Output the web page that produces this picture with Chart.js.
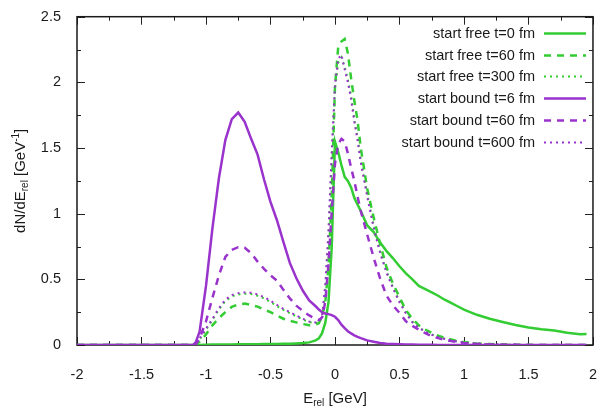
<!DOCTYPE html>
<html>
<head>
<meta charset="utf-8">
<script src="https://cdn.jsdelivr.net/npm/chart.js@4.4.1/dist/chart.umd.min.js"></script>
<style>
  html, body { margin: 0; padding: 0; background: #fff; }
  #caja { width: 610px; height: 407px; }
</style>
</head>
<body>
<div id="caja"><canvas id="grafico"></canvas></div>
<script>
// E_rel [GeV]
const eRel = [-2, -1.5, -1.1, -1.08, -1.05, -1.0,
  -0.95, -0.9, -0.85, -0.8, -0.75, -0.7, -0.65, -0.6, -0.55, -0.5, -0.45, -0.4, -0.35, -0.3, -0.25, -0.2, -0.15,
  -0.125, -0.1, -0.075, -0.05, -0.025,
  0, 0.025, 0.05, 0.075, 0.1, 0.125, 0.15, 0.175, 0.2,
  0.25, 0.3, 0.35, 0.4, 0.45, 0.5, 0.55, 0.6, 0.65, 0.7, 0.75, 0.8, 0.85, 0.9, 0.95, 1.0,
  1.1, 1.2, 1.3, 1.4, 1.5, 1.6, 1.7, 1.8, 1.9, 1.95];

// dN/dE_rel [GeV^-1]
const freeT0 = [0, 0, 0, 0, 0, 0.002,
  0.003, 0.003, 0.004, 0.004, 0.005, 0.005, 0.006, 0.006, 0.007, 0.008, 0.008, 0.009, 0.01, 0.012, 0.015, 0.02, 0.035,
  0.05, 0.09, 0.17, 0.33, 0.75,
  1.55, 1.47, 1.37, 1.28, 1.25, 1.2, 1.12, 1.07, 1.02,
  0.91, 0.86, 0.78, 0.715, 0.66, 0.6, 0.545, 0.5, 0.45, 0.425, 0.4, 0.375, 0.345, 0.32, 0.295, 0.27,
  0.23, 0.2, 0.175, 0.152, 0.134, 0.12, 0.11, 0.093, 0.082, 0.083];

const freeT60 = [0, 0, 0, 0.005, 0.025, 0.08,
  0.15, 0.205, 0.25, 0.29, 0.31, 0.315, 0.305, 0.292, 0.27, 0.25, 0.225, 0.2, 0.185, 0.172, 0.16, 0.15, 0.155,
  0.165, 0.22, 0.33, 0.6, 1.15,
  1.97, 2.27, 2.31, 2.33, 2.22, 2.03, 1.86, 1.71, 1.5,
  1.19, 0.97, 0.77, 0.59, 0.465, 0.365, 0.265, 0.2, 0.15, 0.118, 0.092, 0.07, 0.055, 0.042, 0.03, 0.022,
  0.012, 0.007, 0.004, 0.002, 0.001, 0, 0, 0, 0, 0];

const freeT300 = [0, 0, 0, 0.008, 0.04, 0.115,
  0.19, 0.27, 0.335, 0.37, 0.385, 0.39, 0.388, 0.375, 0.355, 0.327, 0.297, 0.268, 0.243, 0.218, 0.195, 0.173, 0.167,
  0.172, 0.21, 0.42, 0.82, 1.42,
  1.95, 2.15, 2.19, 2.12, 2.02, 1.9, 1.72, 1.58, 1.41,
  1.15, 0.91, 0.71, 0.56, 0.44, 0.335, 0.25, 0.18, 0.135, 0.102, 0.08, 0.062, 0.048, 0.037, 0.027, 0.02,
  0.012, 0.006, 0.003, 0.001, 0, 0, 0, 0, 0, 0];

const boundT6 = [0, 0, 0, 0.02, 0.1, 0.45,
  0.89, 1.27, 1.56, 1.72, 1.77, 1.7, 1.57, 1.45, 1.26, 1.09, 0.95, 0.785, 0.625, 0.51, 0.415, 0.34, 0.295,
  0.27, 0.25, 0.24, 0.235, 0.228,
  0.215, 0.19, 0.155, 0.128, 0.105, 0.088, 0.074, 0.062, 0.052,
  0.035, 0.025, 0.016, 0.01, 0.007, 0.005, 0.004, 0.003, 0.002, 0.002, 0.001, 0, 0, 0, 0, 0,
  0, 0, 0, 0, 0, 0, 0, 0, 0, 0];

const boundT60 = [0, 0, 0, 0.005, 0.05, 0.18,
  0.36, 0.53, 0.67, 0.725, 0.745, 0.74, 0.7, 0.635, 0.58, 0.53, 0.49, 0.42, 0.355, 0.3, 0.26, 0.225, 0.2,
  0.19, 0.21, 0.33, 0.62, 1.02,
  1.38, 1.53, 1.57, 1.55, 1.46, 1.35, 1.25, 1.13, 1.02,
  0.84, 0.665, 0.505, 0.375, 0.3, 0.245, 0.18, 0.145, 0.118, 0.09, 0.068, 0.052, 0.04, 0.03, 0.022, 0.016,
  0.008, 0.004, 0.002, 0.001, 0, 0, 0, 0, 0, 0];

const boundT600 = [0, 0, 0, 0.01, 0.05, 0.125,
  0.2, 0.28, 0.345, 0.38, 0.395, 0.4, 0.398, 0.385, 0.365, 0.337, 0.305, 0.275, 0.25, 0.225, 0.2, 0.178, 0.172,
  0.178, 0.22, 0.46, 0.88, 1.48,
  1.98, 2.18, 2.21, 2.1, 2.0, 1.87, 1.7, 1.56, 1.39,
  1.13, 0.89, 0.7, 0.55, 0.43, 0.325, 0.24, 0.172, 0.132, 0.1, 0.078, 0.06, 0.046, 0.035, 0.026, 0.018,
  0.01, 0.005, 0.002, 0.001, 0, 0, 0, 0, 0, 0];

const etiquetas = ['start free t=0 fm', 'start free t=60 fm', 'start free t=300 fm',
  'start bound t=6 fm', 'start bound t=60 fm', 'start bound t=600 fm'];

const verde = '#33cc33';
const violeta = '#9933cc';
const fuente = '"Liberation Sans", Arial, sans-serif';

const puntos = (ys) => eRel.map((x, i) => ({ x: x, y: ys[i] }));

const serie = (i, ys, color, dash, ancho) => ({
  label: etiquetas[i],
  data: puntos(ys),
  borderColor: color,
  borderWidth: ancho,
  borderDash: dash,
  pointRadius: 0,
  fill: false,
  tension: 0,
  order: 5 - i
});

// caja, marcas hacia adentro, titulos de ejes y leyenda
const marco = {
  id: 'marco',
  beforeDatasetsDraw(chart) {
    const { ctx, chartArea: a, scales: { x, y } } = chart;
    ctx.save();
    ctx.strokeStyle = '#222';
    ctx.lineWidth = 1;
    for (let k = 0; k <= 16; k++) {
      const v = -2 + k * 0.25;
      const px = Math.round(x.getPixelForValue(v)) + 0.5;
      const l = k % 2 == 0 ? 8 : 4;
      ctx.beginPath();
      ctx.moveTo(px, a.bottom); ctx.lineTo(px, a.bottom - l);
      ctx.moveTo(px, a.top); ctx.lineTo(px, a.top + l);
      ctx.stroke();
    }
    for (let k = 0; k <= 10; k++) {
      const v = k * 0.25;
      const py = Math.round(y.getPixelForValue(v)) + 0.5;
      const l = k % 2 == 0 ? 8 : 4;
      ctx.beginPath();
      ctx.moveTo(a.left, py); ctx.lineTo(a.left + l, py);
      ctx.moveTo(a.right, py); ctx.lineTo(a.right - l, py);
      ctx.stroke();
    }
    ctx.lineWidth = 1.5;
    ctx.strokeStyle = '#1a1a1a';
    ctx.strokeRect(a.left, a.top, a.right - a.left, a.bottom - a.top);
    ctx.restore();
  },
  afterDraw(chart) {
    const { ctx, chartArea: a } = chart;
    ctx.save();
    ctx.fillStyle = '#1a1a1a';

    const escribir = (partes, x0, y0) => {
      let x = x0;
      partes.forEach(p => {
        ctx.font = p.s + 'px ' + fuente;
        ctx.fillText(p.t, x, y0 + (p.dy || 0));
        x += ctx.measureText(p.t).width;
      });
    };
    const medir = (partes) => partes.reduce((s, p) => {
      ctx.font = p.s + 'px ' + fuente;
      return s + ctx.measureText(p.t).width;
    }, 0);

    ctx.textAlign = 'left';
    ctx.textBaseline = 'alphabetic';
    const tx = [{ t: 'E', s: 15 }, { t: 'rel', s: 10, dy: 3 }, { t: ' [GeV]', s: 15 }];
    escribir(tx, (a.left + a.right) / 2 - medir(tx) / 2, 403);

    const ty = [{ t: 'dN/dE', s: 15 }, { t: 'rel', s: 10, dy: 3 }, { t: ' [GeV', s: 15 },
      { t: '-1', s: 10, dy: -6 }, { t: ']', s: 15 }];
    ctx.translate(25, (a.top + a.bottom) / 2);
    ctx.rotate(-Math.PI / 2);
    escribir(ty, -medir(ty) / 2, 0);
    ctx.setTransform(1, 0, 0, 1, 0, 0);

    // leyenda
    ctx.font = '14.5px ' + fuente;
    ctx.textAlign = 'right';
    ctx.textBaseline = 'middle';
    chart.data.datasets.forEach((ds, i) => {
      const yy = Math.round(33 + i * 21.7) + 0.5;
      ctx.fillStyle = '#1a1a1a';
      ctx.fillText(ds.label, 535, yy);
      ctx.beginPath();
      ctx.setLineDash(ds.borderDash);
      ctx.lineWidth = ds.borderWidth;
      ctx.strokeStyle = ds.borderColor;
      ctx.moveTo(544, yy);
      ctx.lineTo(586, yy);
      ctx.stroke();
    });
    ctx.restore();
  }
};

const rotulo = (v) => String(Number(v.toFixed(2)));

const canva = document.getElementById('grafico');
new Chart(canva, {
  type: 'line',
  data: {
    datasets: [
      serie(0, freeT0, verde, [], 2.5),
      serie(1, freeT60, verde, [7, 6], 2.5),
      serie(2, freeT300, verde, [2, 4], 2),
      serie(3, boundT6, violeta, [], 2.5),
      serie(4, boundT60, violeta, [7, 6], 2.5),
      serie(5, boundT600, violeta, [2, 4], 2)
    ]
  },
  options: {
    responsive: true,
    maintainAspectRatio: false,
    devicePixelRatio: 1,
    animation: false,
    layout: { padding: { top: 13, right: 7, left: 0, bottom: 0 } },
    plugins: { legend: { display: false }, tooltip: { enabled: false } },
    scales: {
      x: {
        type: 'linear', min: -2, max: 2,
        grid: { display: false },
        border: { display: false },
        ticks: { stepSize: 0.5, padding: 13, maxRotation: 0, color: '#1a1a1a', callback: rotulo,
          font: { family: fuente, size: 14.5 } },
        afterFit: (s) => { s.height = 62; }
      },
      y: {
        min: 0, max: 2.5,
        grid: { display: false },
        border: { display: false },
        ticks: { stepSize: 0.5, padding: 8, color: '#1a1a1a', callback: rotulo,
          font: { family: fuente, size: 14.5 } },
        afterFit: (s) => { s.width = 77; }
      }
    }
  },
  plugins: [marco]
});
</script>
</body>
</html>
